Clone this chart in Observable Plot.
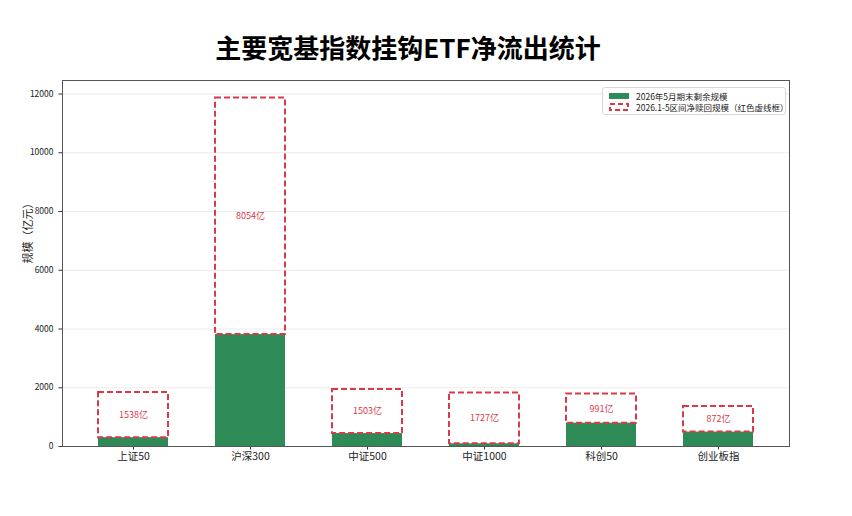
<!DOCTYPE html>
<html>
<head>
<meta charset="utf-8">
<script src="https://cdn.jsdelivr.net/npm/d3@7"></script>
<script src="https://cdn.jsdelivr.net/npm/@observablehq/plot@0.6"></script>
<style>
  html, body { margin: 0; padding: 0; background: #fff; }
  #wrap { position: relative; width: 852px; height: 516px; font-family: "Noto Sans CJK SC", "DejaVu Sans", sans-serif; }
  #title { position: absolute; left: 0; width: 816px; top: 28px; text-align: center; font-size: 26px; font-weight: bold; color: #000; line-height: 38px; }
  #legend { position: absolute; left: 602px; top: 87px; width: 182px; border: 1px solid #d8d8d8; border-radius: 3px; background: #fff; font-size: 8.5px; color: #222; padding: 2px 0 2px 0; white-space: nowrap; }
  .lg { display: flex; align-items: center; height: 11px; white-space: nowrap; }
  .lg svg { margin: 0 6px 0 5px; flex: none; }
</style>
</head>
<body>
<div id="wrap">
  <div id="title">主要宽基指数挂钩ETF净流出统计</div>
  <div id="chart"></div>
  <div id="legend"></div>
</div>
<script>
const categories = ["上证50", "沪深300", "中证500", "中证1000", "科创50", "创业板指"];
const remaining = [300, 3810, 440, 91, 793, 490];
const redemption = [1538, 8054, 1503, 1727, 991, 872];
const yTicks = [0, 2000, 4000, 6000, 8000, 10000, 12000];
const legendLabels = ["2026年5月期末剩余规模", "2026.1-5区间净赎回规模（红色虚线框）"];
const yLabel = "规模（亿元）";

const green = "#2e8b57";
const red = "#d93a4a";

const data = categories.map((c, i) => ({
  cat: c,
  rem: remaining[i],
  red: redemption[i],
  top: remaining[i] + redemption[i],
  mid: remaining[i] + redemption[i] / 2,
  label: redemption[i] + "亿"
}));

const chart = Plot.plot({
  width: 852,
  height: 516,
  marginLeft: 62,
  marginRight: 63,
  marginTop: 80,
  marginBottom: 70,
  style: { fontFamily: "'Noto Sans CJK SC', 'DejaVu Sans', sans-serif", background: "#fff", overflow: "visible" },
  x: { domain: categories, paddingInner: 0.4, paddingOuter: 0.285, label: null },
  y: { domain: [0, 12460], label: null },
  marks: [
    Plot.ruleY(yTicks.slice(1), { stroke: "#e6e6e6", strokeWidth: 0.8 }),
    Plot.barY(data, { x: "cat", y1: 0, y2: "rem", fill: green }),
    Plot.barY(data, { x: "cat", y1: "rem", y2: "top", fill: "none", stroke: red, strokeWidth: 2, strokeDasharray: "6,3" }),
    Plot.text(data, { x: "cat", y: "mid", text: "label", fill: red, fontSize: 9 }),
    Plot.axisY({ ticks: yTicks, tickFormat: d => String(d), tickSize: 3.5, fontSize: 8.5, fill: "#222", stroke: "#333", label: null }),
    Plot.axisX({ tickSize: 3.5, fontSize: 10.5, fill: "#222", stroke: "#333", label: null, tickPadding: 3 }),
    Plot.frame({ stroke: "#555", strokeWidth: 1 }),
    Plot.text([yLabel], { frameAnchor: "left", dx: -34, rotate: -90, fontSize: 11, fill: "#222" })
  ]
});
document.getElementById("chart").appendChild(chart);

const lg = document.getElementById("legend");
lg.innerHTML =
  `<div class="lg"><svg width="22" height="8"><rect x="1" y="1" width="20" height="6" fill="${green}"/></svg><span>${legendLabels[0]}</span></div>` +
  `<div class="lg"><svg width="22" height="10"><rect x="2" y="2" width="18" height="6" fill="none" stroke="${red}" stroke-width="2" stroke-dasharray="5,3"/></svg><span>${legendLabels[1]}</span></div>`;
</script>
</body>
</html>
